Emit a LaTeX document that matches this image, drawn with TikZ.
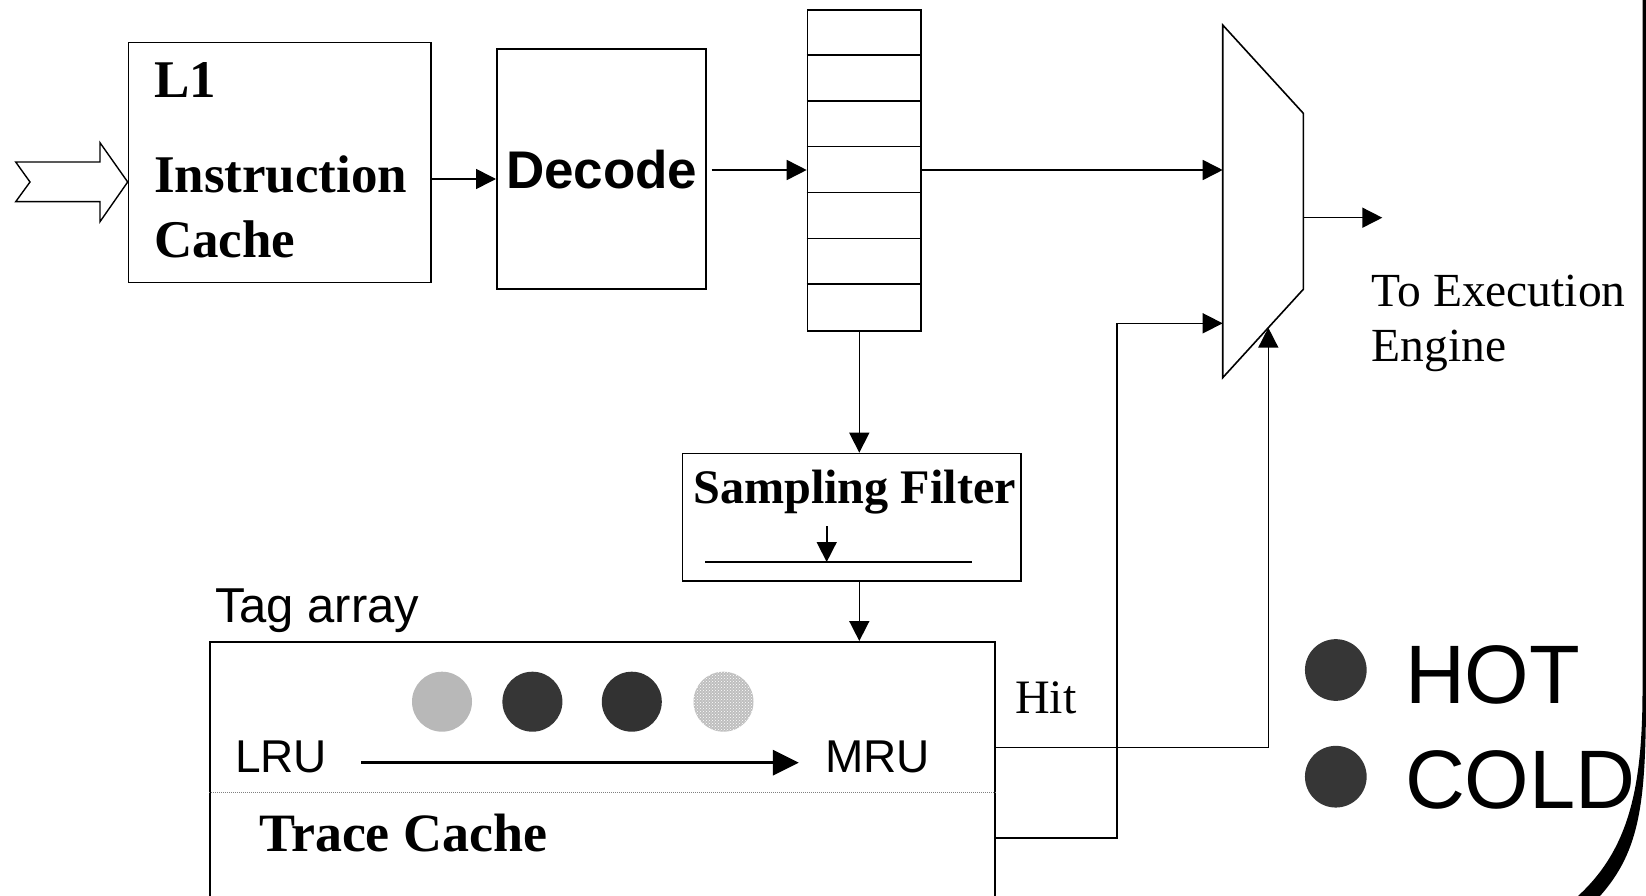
\documentclass[tikz,border=0pt]{standalone}
\usepackage{fontspec}
\setmainfont{Liberation Serif}
\newfontfamily\arialfont{Liberation Sans}
\usetikzlibrary{arrows.meta,patterns}

\begin{document}
\begin{tikzpicture}[x=1pt,y=-1pt,
  box/.style={draw, line width=1.6pt, rectangle, inner sep=0pt, anchor=north west},
  wire/.style={line width=1.6pt},
  arr/.style={wire, -{Triangle[length=20pt,width=20pt]}},
  bigarr/.style={line width=3.5pt, -{Triangle[length=26pt,width=25pt]}},
  lbl/.style={anchor=base west, inner sep=0pt, outer sep=0pt},
  serifbold/.style={lbl, font=\fontsize{53}{60}\selectfont\bfseries},
  serifmid/.style={lbl, font=\fontsize{47.5}{54}\selectfont},
  serifmidbold/.style={lbl, font=\fontsize{48.2}{54}\selectfont\bfseries},
  sanstext/.style={lbl, font=\arialfont\fontsize{46}{52}\selectfont},
  sanslarge/.style={lbl, font=\arialfont\fontsize{83}{90}\selectfont},
  dot/.style={circle, inner sep=0pt, minimum size=60pt},
]
\useasboundingbox (0,0) rectangle (1646,896);
\clip (0,0) rectangle (1646,896);

% ---- blocks ----
\node[box, minimum width=302.3pt, minimum height=240pt] (l1) at (127.7,41.7) {};
\node[box, minimum width=209pt, minimum height=240pt] (decode) at (496,48.3) {};
\node[box, minimum width=113.3pt, minimum height=320.7pt] (queue) at (806.7,9.3) {};
\node[box, minimum width=338.3pt, minimum height=127.3pt] (sampling) at (681.7,452.7) {};
\node[box, minimum width=785pt, minimum height=420pt] (trace) at (209,641) {};

% queue entries
\foreach \k in {1,...,6}
  \draw[wire] (806.7,{9.3+45.8*\k}) -- (920,{9.3+45.8*\k});

% ---- multiplexer ----
\coordinate (mtl) at (1222.7,25);
\coordinate (mtr) at (1303.3,113.3);
\coordinate (mbr) at (1303.3,289.3);
\coordinate (mbl) at (1222.7,377.7);
\draw[wire, line join=miter] (mtl) -- (mtr) -- (mbr) -- (mbl) -- cycle;
\coordinate (muxin1) at (1222.7,170);
\coordinate (muxin2) at (1222.7,323.3);
\coordinate (muxout) at (1303.3,217.7);
\coordinate (muxsel) at (1268.3,327.7);
\coordinate (exec) at (1382.3,217.7);

% ---- texts ----
\node[serifbold] (tl1) at (154,98) {L1};
\node[serifbold] (tinstr) at (154,193) {Instruction};
\node[serifbold] (tcache) at (154,257) {Cache};
\node[lbl, font=\arialfont\fontsize{53}{60}\selectfont\bfseries] (tdecode) at (506,188.3) {Decode};
\node[serifmid] (texec) at (1371.7,306) {To Execution};
\node[serifmid] (tengine) at (1371.7,361.7) {Engine};
\node[serifmidbold] (tsamp) at (693.3,503.3) {Sampling Filter};
\node[lbl, font=\arialfont\fontsize{49}{55}\selectfont] (ttag) at (215,622) {Tag array};
\node[sanstext] (tlru) at (235,772.7) {LRU};
\node[sanstext] (tmru) at (825,772.7) {MRU};
\node[lbl, font=\fontsize{54}{60}\selectfont\bfseries] (ttrace) at (259,851.7) {Trace Cache};
\node[lbl, font=\fontsize{48}{54}\selectfont] (thit) at (1015,713.3) {Hit};
\node[sanslarge] (thot) at (1405,703.3) {HOT};
\node[sanslarge] (tcold) at (1405,808.3) {COLD};

% ---- input chevron ----
\coordinate (inpt) at (127.7,182);
\draw[line width=1.4pt, line join=miter] (15.7,162) -- (100,162) -- (100,142.7) -- (inpt)
  -- (100,221.7) -- (100,201.7) -- (15.7,201.7) -- (30,182) -- cycle;

% ---- connectors ----
\coordinate (ya) at (0,179);
\coordinate (xd) at (859.3,0);
\coordinate (yhit) at (0,747.3);
\coordinate (ymiss) at (0,837.7);
\draw[arr] (l1.east |- ya) -- (decode.west |- ya);
\draw[arr, shorten <=5pt] (decode.east |- muxin1) -- (queue.west |- muxin1);
\draw[arr] (queue.east |- muxin1) -- (muxin1);
\draw[arr] (queue.south -| xd) -- (sampling.north -| xd);
\draw[arr] (sampling.south -| xd) -- (trace.north -| xd);
\draw[arr] (muxout) -- (exec);
\draw[arr] (trace.east |- yhit) -| (muxsel);
\draw[arr] (trace.east |- ymiss) -| (1116.7,323.3) -- (muxin2);

% inside the sampling filter
\coordinate (sfl) at (705,562);
\coordinate (sfr) at (972.3,562);
\draw[wire] (sfl) -- (sfr);
\draw[arr] (826.7,526) -- (826.7,562);

% inside the tag array
\draw[bigarr] (361,762.7) -- (798.8,762.7);
\draw[gray, line width=1pt, densely dotted] (trace.west |- 0,792.3) -- (trace.east |- 0,792.3);
\node[dot, fill={rgb,255:red,184;green,184;blue,184}] (c1) at (442,701.7) {};
\node[dot, fill={rgb,255:red,54;green,54;blue,54}] (c2) at (532.4,701.7) {};
\node[dot, fill={rgb,255:red,50;green,50;blue,50}] (c3) at (631.8,701.7) {};
\node[dot, fill={rgb,255:red,190;green,190;blue,190}] (c4) at (723.5,701.7) {};
\fill[pattern=crosshatch dots, pattern color=white] (c4.center) circle (30pt);

% legend
\node[dot, minimum size=61.7pt, fill={rgb,255:red,54;green,54;blue,54}] (dhot) at (1335.8,670) {};
\node[dot, minimum size=61.7pt, fill={rgb,255:red,54;green,54;blue,54}] (dcold) at (1335.8,776.7) {};

% slide frame edge
\fill (1646,0) -- (1646,690) .. controls (1646,800) and (1641,850) .. (1600,896)
  -- (1578,896) .. controls (1628,850) and (1642.5,790) .. (1642.5,690) -- (1642.5,0) -- cycle;
\end{tikzpicture}
\end{document}
